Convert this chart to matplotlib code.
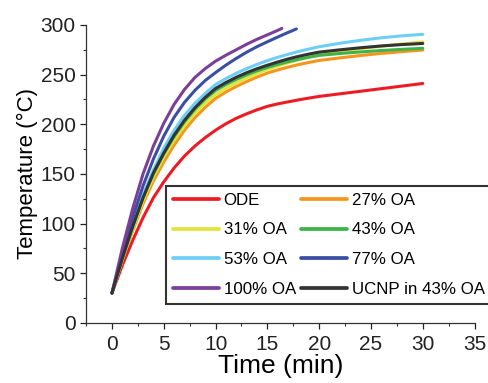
import matplotlib
matplotlib.use("Agg")
import matplotlib.pyplot as plt
from matplotlib.ticker import MultipleLocator

plt.rcParams["font.family"] = ["Liberation Sans", "DejaVu Sans"]

# time grid (min) shared by the full-length runs
t_full = [0, 1, 2, 3, 4, 5, 6, 7, 8, 9, 10, 11, 12, 13, 14, 15, 16, 17, 18, 19, 20,
          22, 24, 26, 28, 30]
ode = [30, 58, 83, 106, 126, 142, 156, 168, 178, 186.5, 194, 200.5, 206, 210.5, 214.5, 218,
       220.5, 222.5, 224.5, 226.3, 228, 230.6, 233.2, 235.8, 238.4, 241]
oa27 = [30, 63, 93, 120, 143, 162, 179, 194, 206.5, 217, 226, 232.5, 238, 243, 247.5, 251.5,
        254.7, 257.5, 260, 262.2, 264.2, 266.8, 269.2, 271.3, 273.1, 274.7]
oa31 = [30, 64, 95, 123, 147, 167, 184, 198.5, 211, 221.5, 230, 236.2, 241.7, 246.7, 251.2, 255.2,
        258.7, 261.9, 264.9, 267.7, 270.3, 273.3, 276.1, 278.6, 280.8, 282.8]
oa43 = [30, 65, 97, 126, 150, 170, 187.5, 202.5, 215, 225.5, 234, 240, 245.2, 249.7, 253.7, 257.2,
        260.2, 262.9, 265.3, 267.4, 269.3, 271.2, 272.8, 274.2, 275.4, 276.4]
oa53 = [30, 66, 99, 129, 154, 176, 194, 209, 221, 231, 240, 246, 251.3, 256, 260.2, 264,
        267.4, 270.4, 273.2, 275.7, 278, 281.5, 284.5, 287, 289, 290.5]
ucnp43 = [30, 65, 97, 126, 151, 171, 189, 204, 216.5, 227, 236, 242, 247.3, 251.9, 255.9, 259.4,
          262.7, 265.7, 268.3, 270.6, 272.6, 274.9, 277, 278.8, 280.2, 281.3]

# the two fast runs stop early
t_77 = [0, 1, 2, 3, 4, 5, 6, 7, 8, 9, 10, 11, 12, 13, 14, 15, 16, 17, 17.8]
oa77 = [30, 70, 106, 138, 165, 188, 207, 222, 234, 244, 252, 259.5, 266.3, 272.5, 278.1, 283,
        287.8, 292.4, 295.9]
t_100 = [0, 1, 2, 3, 4, 5, 6, 7, 8, 9, 10, 11, 12, 13, 14, 15, 16, 16.4]
oa100 = [30, 75, 115, 150, 178, 201, 220, 235, 247, 256, 263.5, 269.5, 275, 280.5, 285.5, 290,
         294.5, 296.5]

series = [
    ("ODE", t_full, ode, "#ed1c24"),
    ("27% OA", t_full, oa27, "#f7941d"),
    ("31% OA", t_full, oa31, "#e3e33a"),
    ("43% OA", t_full, oa43, "#3cb44a"),
    ("53% OA", t_full, oa53, "#6dcff6"),
    ("77% OA", t_77, oa77, "#3a4fa3"),
    ("100% OA", t_100, oa100, "#7b3f98"),
    ("UCNP in 43% OA", t_full, ucnp43, "#333333"),
]

fig = plt.figure(figsize=(4.89, 3.83), dpi=100)
ax = fig.add_axes([0.176, 0.157, 0.7945, 0.778])

handles = []
for label, t, y, c in series:
    h, = ax.plot(t, y, color=c, lw=2.2, label=label, solid_capstyle="round")
    handles.append(h)

ax.set_xlim(-2.5, 35)
ax.set_ylim(0, 300)
ax.xaxis.set_major_locator(MultipleLocator(5))
ax.xaxis.set_minor_locator(MultipleLocator(2.5))
ax.yaxis.set_major_locator(MultipleLocator(50))
ax.yaxis.set_minor_locator(MultipleLocator(25))
ax.spines["top"].set_visible(False)
ax.spines["right"].set_visible(False)
for s in ("left", "bottom"):
    ax.spines[s].set_linewidth(0.9)
    ax.spines[s].set_color("#333333")
ax.tick_params(which="major", direction="out", length=4, width=0.9, labelsize=15, colors="#222222")
ax.tick_params(axis="x", which="major", pad=5)
ax.tick_params(which="minor", direction="out", length=2.5, width=0.8, colors="#333333")

ax.set_xlabel("Time (min)", fontsize=19, labelpad=0)
ax.set_ylabel("Temperature (\u00b0C)", fontsize=16, labelpad=2)

# legend reads row by row in the reference: reorder for matplotlib's column fill
order = [0, 2, 4, 6, 1, 3, 5, 7]
leg = ax.legend([handles[i] for i in order], [series[i][0] for i in order],
                ncol=2, loc="upper left", bbox_to_anchor=(0.206, 0.46),
                borderaxespad=0, fontsize=12.2, handlelength=2.7, handletextpad=0.3,
                columnspacing=0.3, labelspacing=0.88, borderpad=0.4,
                fancybox=False, frameon=True)
leg.get_frame().set_edgecolor("black")
leg.get_frame().set_linewidth(1.5)
for line in leg.get_lines():
    line.set_linewidth(2.7)

fig.savefig("out.png", dpi=100)
